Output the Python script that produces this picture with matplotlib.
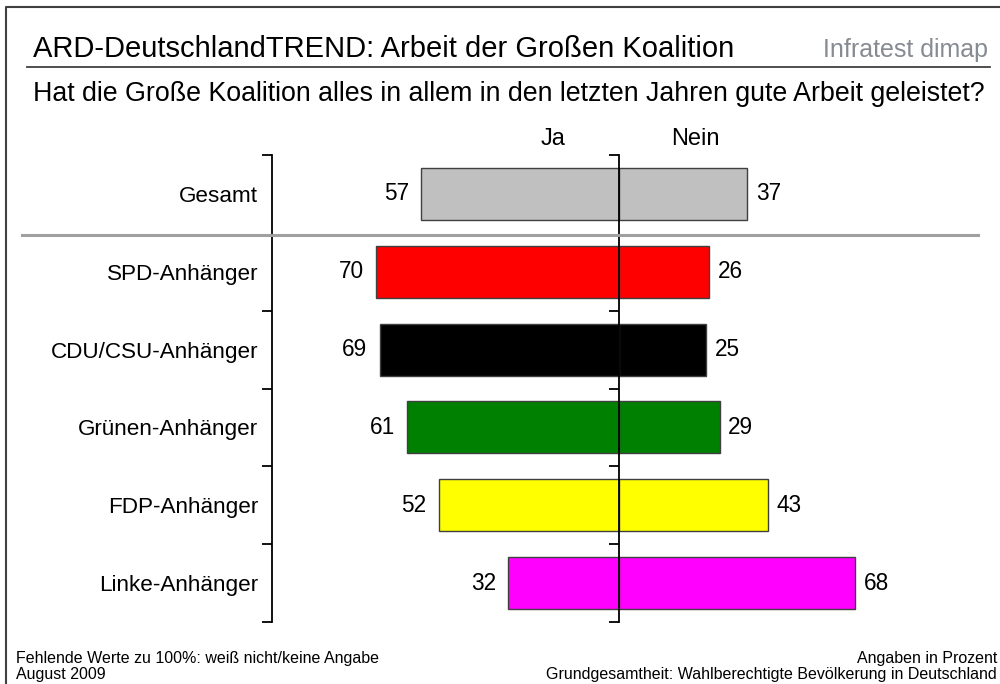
import matplotlib
matplotlib.use("Agg")
import matplotlib.pyplot as plt
import matplotlib.transforms as mtransforms
from matplotlib.lines import Line2D

plt.rcParams['font.family'] = ['Liberation Sans', 'DejaVu Sans']

# --- data ---
groups = ["Gesamt", "SPD-Anhänger", "CDU/CSU-Anhänger", "Grünen-Anhänger",
          "FDP-Anhänger", "Linke-Anhänger"]
ja = [57, 70, 69, 61, 52, 32]
nein = [37, 26, 25, 29, 43, 68]
colors = ["#C0C0C0", "#FF0000", "#000000", "#008000", "#FFFF00", "#FF00FF"]

title = "ARD-DeutschlandTREND: Arbeit der Großen Koalition"
subtitle = "Hat die Große Koalition alles in allem in den letzten Jahren gute Arbeit geleistet?"
foot_left = "Fehlende Werte zu 100%: weiß nicht/keine Angabe\nAugust 2009"
foot_right = "Angaben in Prozent\nGrundgesamtheit: Wahlberechtigte Bevölkerung in Deutschland"

fig = plt.figure(figsize=(10, 6.84), dpi=100)
ax = fig.add_axes([0.272, 0.0906, 0.694, 0.6828])

ypos = list(range(len(groups)))
ax.barh(ypos, [-v for v in ja], height=0.667, color=colors,
        edgecolor="#404040", linewidth=1, zorder=2)
ax.barh(ypos, nein, height=0.667, color=colors,
        edgecolor="#404040", linewidth=1, zorder=2)

for i in ypos:
    ax.text(-ja[i] - 3.5, i, str(ja[i]), ha="right", va="center", fontsize=16.3)
    ax.text(nein[i] + 2.5, i, str(nein[i]), ha="left", va="center", fontsize=16.3)

ax.set_xlim(-100, 100)
ax.set_ylim(len(groups) - 0.5, -0.5)

# boundaries between groups carry the tick marks, labels sit at the centres
bounds = [-0.5, 1.5, 2.5, 3.5, 4.5, 5.5]
ax.set_yticks(bounds)
ax.set_yticklabels([])
ax.set_yticks(ypos, minor=True)
ax.set_yticklabels(groups, minor=True, fontsize=16.2)
ax.tick_params(axis="y", which="major", direction="out", length=7, width=1.3)
ax.tick_params(axis="y", which="minor", length=0, pad=10)
ax.set_xticks([])
for s in ["top", "right", "bottom"]:
    ax.spines[s].set_visible(False)
ax.spines["left"].set_linewidth(1.3)

# zero line as a second spine with the same ticks
ax2 = ax.twinx()
ax2.set_ylim(ax.get_ylim())
ax2.yaxis.set_ticks_position("left")
ax2.set_yticks(bounds)
ax2.set_yticklabels([])
ax2.tick_params(axis="y", direction="out", length=7, width=1.3)
for s in ["top", "right", "bottom"]:
    ax2.spines[s].set_visible(False)
ax2.spines["left"].set_position(("data", 0))
ax2.spines["left"].set_linewidth(1.3)
ax2.spines["left"].set_zorder(5)

# Ja / Nein headers
hdr = mtransforms.blended_transform_factory(ax.transData, ax.transAxes)
ax.text(-19, 1.01, "Ja", transform=hdr, ha="center", va="bottom", fontsize=17)
ax.text(22, 1.01, "Nein", transform=hdr, ha="center", va="bottom", fontsize=17)

# gray separator below "Gesamt"
sep = mtransforms.blended_transform_factory(fig.transFigure, ax.transData)
fig.add_artist(Line2D([0.022, 0.978], [0.53, 0.53], transform=sep,
                      color="#A0A0A0", linewidth=2.2))

# frame (top and left) and title underline
fig.add_artist(Line2D([0.006, 0.006, 1.0], [0.0, 0.99, 0.99],
                      transform=fig.transFigure, color="#404040", linewidth=1.5))
fig.add_artist(Line2D([0.027, 0.99], [0.902, 0.902],
                      transform=fig.transFigure, color="#404040", linewidth=1.3))

fig.text(0.033, 0.916, title, fontsize=21, va="baseline", ha="left")
fig.text(0.033, 0.853, subtitle, fontsize=19.3, va="baseline", ha="left")
fig.text(0.988, 0.916, "Infratest dimap", fontsize=18, va="baseline", ha="right",
         color="#858B91")

fig.text(0.016, 0.003, foot_left, fontsize=11.5, va="bottom", ha="left",
         linespacing=1.05)
fig.text(0.997, 0.003, foot_right, fontsize=11.5, va="bottom", ha="right",
         multialignment="right", linespacing=1.05)

fig.savefig("out.png", dpi=100)
